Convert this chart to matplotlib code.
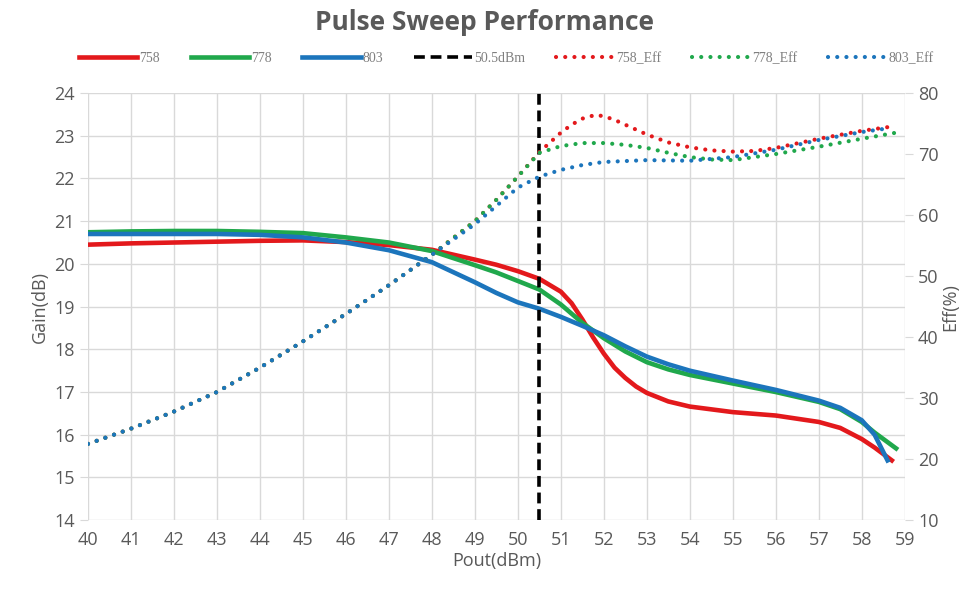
import numpy as np
import matplotlib.pyplot as plt

# gain curves (dB)
x_758 = [40, 41, 42, 43, 44, 45, 46, 47, 48, 49, 49.5, 50, 50.5, 51, 51.25, 51.5, 51.75, 52, 52.25, 52.5, 52.75, 53, 53.5, 54, 55, 56, 57, 57.5, 58, 58.3, 58.7]
gain_758 = [20.45, 20.48, 20.5, 20.52, 20.54, 20.55, 20.51, 20.44, 20.33, 20.1, 19.98, 19.83, 19.65, 19.35, 19.08, 18.7, 18.28, 17.9, 17.57, 17.33, 17.13, 16.98, 16.78, 16.66, 16.53, 16.45, 16.3, 16.16, 15.9, 15.7, 15.4]
x_778 = [40, 41, 42, 43, 44, 45, 46, 47, 48, 49, 49.5, 50, 50.5, 51, 51.5, 52, 52.5, 53, 53.5, 54, 55, 56, 57, 57.5, 58, 58.3, 58.8]
gain_778 = [20.74, 20.76, 20.77, 20.77, 20.75, 20.72, 20.62, 20.5, 20.3, 19.97, 19.8, 19.6, 19.4, 19.05, 18.62, 18.26, 17.95, 17.7, 17.53, 17.4, 17.2, 17.0, 16.77, 16.6, 16.3, 16.05, 15.68]
x_803 = [40, 41, 42, 43, 44, 45, 46, 47, 48, 49, 49.5, 50, 50.5, 51, 51.5, 52, 52.5, 53, 53.5, 54, 55, 56, 57, 57.5, 58, 58.3, 58.5, 58.6]
gain_803 = [20.7, 20.7, 20.7, 20.7, 20.68, 20.62, 20.5, 20.32, 20.04, 19.57, 19.32, 19.1, 18.95, 18.76, 18.55, 18.33, 18.07, 17.83, 17.65, 17.5, 17.27, 17.05, 16.8, 16.63, 16.34, 16.0, 15.6, 15.4]

# efficiency curves (%)
xe_758 = [40, 41, 42, 43, 44, 45, 46, 47, 48, 49, 49.5, 50, 50.5, 51, 51.25, 51.5, 51.8, 52, 52.25, 52.5, 52.75, 53, 53.5, 54, 54.5, 55, 55.5, 56, 57, 58, 58.7]
eff_758 = [22.5, 25, 27.8, 31, 35, 39.3, 43.8, 48.5, 53.5, 59, 62.5, 66.3, 70.3, 73.5, 74.8, 75.8, 76.4, 76.2, 75.6, 74.8, 74.0, 73.2, 71.9, 71.1, 70.6, 70.4, 70.5, 71.0, 72.5, 73.8, 74.5]
xe_778 = [40, 41, 42, 43, 44, 45, 46, 47, 48, 49, 49.5, 50, 50.5, 51, 51.5, 52, 52.5, 53, 53.5, 54, 54.5, 55, 56, 57, 58, 58.8]
eff_778 = [22.5, 25, 27.8, 31, 35, 39.3, 43.8, 48.5, 53.5, 59, 62.5, 66.3, 70.2, 71.3, 71.8, 71.8, 71.5, 71.0, 70.2, 69.5, 69.1, 69.0, 70.0, 71.2, 72.5, 73.5]
xe_803 = [40, 41, 42, 43, 44, 45, 46, 47, 48, 49, 49.5, 50, 50.5, 51, 51.5, 52, 53, 54, 55, 56, 57, 58, 58.6]
eff_803 = [22.5, 25, 27.8, 31, 35, 39.3, 43.8, 48.5, 53.5, 58.5, 61.5, 64.5, 66.3, 67.4, 68.2, 68.7, 69.0, 68.9, 69.5, 70.7, 72.3, 73.6, 74.2]

marker_x = 50.5

red = '#e3191c'
green = '#20a84c'
blue = '#1c75bc'
gray = '#595959'

plt.rcParams['font.family'] = ['Open Sans', 'DejaVu Sans']

fig = plt.figure(figsize=(9.7, 6), dpi=100)
ax = fig.add_axes([0.0907, 0.133, 0.842, 0.712])
ax2 = ax.twinx()

l1, = ax.plot(x_758, gain_758, color=red, lw=3.3, label='758', solid_joinstyle='round')
l2, = ax.plot(x_778, gain_778, color=green, lw=3.3, label='778', solid_joinstyle='round')
l3, = ax.plot(x_803, gain_803, color=blue, lw=3.3, label='803', solid_joinstyle='round')
l4 = ax.axvline(marker_x, color='black', lw=2.6, ls=(0, (3, 1.6)), label='50.5dBm')

dot = (0, (0.01, 2.2))
l5, = ax2.plot(xe_758, eff_758, color=red, lw=3, ls=dot, dash_capstyle='round', label='758_Eff')
l6, = ax2.plot(xe_778, eff_778, color=green, lw=3, ls=dot, dash_capstyle='round', label='778_Eff')
l7, = ax2.plot(xe_803, eff_803, color=blue, lw=3, ls=dot, dash_capstyle='round', label='803_Eff')

ax.set_xlim(40, 59)
ax.set_ylim(14, 24)
ax2.set_ylim(10, 80)
ax.set_xticks(np.arange(40, 60, 1))
ax.set_yticks(np.arange(14, 25, 1))
ax2.set_yticks(np.arange(10, 81, 10))

ax.grid(True, color='#d9d9d9', lw=1)
ax.set_axisbelow(True)
for a in (ax, ax2):
    for s in a.spines.values():
        s.set_visible(False)
    a.tick_params(colors='#d9d9d9', labelcolor=gray, labelsize=13, length=6)
ax.tick_params(axis='x', length=0, pad=8)

ax.set_xlabel('Pout(dBm)', color=gray, fontsize=13, labelpad=2)
ax.set_ylabel('Gain(dB)', color=gray, fontsize=13, labelpad=4)
ax2.set_ylabel('Eff(%)', color=gray, fontsize=13, labelpad=2)

fig.text(0.5, 0.962, 'Pulse Sweep Performance', ha='center', va='center',
         fontsize=19, fontweight='bold', color=gray)

leg = fig.legend(handles=[l1, l2, l3, l4, l5, l6, l7], loc='center', bbox_to_anchor=(0.522, 0.903),
                 ncol=7, frameon=False, handlelength=4.2, handletextpad=0.15, columnspacing=2.2,
                 prop={'family': 'Liberation Serif', 'size': 10})
for t in leg.get_texts():
    t.set_color('#7f7f7f')

fig.savefig('out.png', dpi=100)
